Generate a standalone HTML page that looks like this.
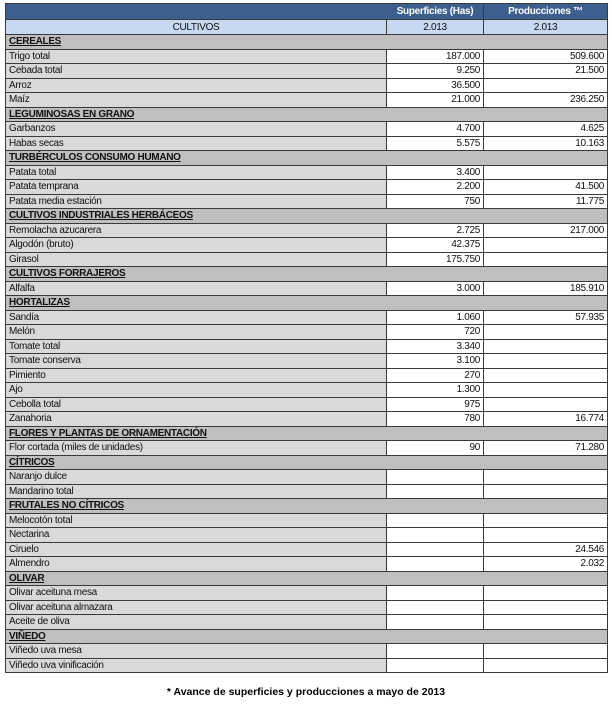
<!DOCTYPE html>
<html><head><meta charset="utf-8"><style>
body{margin:0;width:612px;height:705px;background:#fff;font-family:"Liberation Sans",sans-serif;overflow:hidden}
table{position:absolute;left:5px;top:3px;width:602px;border-collapse:collapse;table-layout:fixed;font-size:10px;letter-spacing:-0.3px}
td{border:1px solid #3a3a3a;padding:1px 3px 0 3px;height:12.5px;line-height:12px;white-space:nowrap;overflow:hidden;color:#111;vertical-align:middle}
tr.h1 td{background:#3c5f8e;color:#fff;font-weight:bold;text-align:center;height:14px}
tr.h1 td:first-child{border-right-color:#3c5f8e}
tr.h2 td{background:#c6d9f0;text-align:center;height:13px}
tr.c td{background:#bfbfbf;font-weight:bold;text-decoration:underline}
tr.d td:first-child{background:#d9d9d9}
tr.d td{text-align:right}
tr.d td:first-child{text-align:left}
.f{position:absolute;top:686px;left:0;width:612px;text-align:center;font-weight:bold;font-size:10.5px}
</style></head><body>
<table>
<colgroup><col style="width:381px"><col style="width:97px"><col style="width:124px"></colgroup>
<tr class="h1"><td></td><td>Superficies (Has)</td><td>Producciones ™</td></tr>
<tr class="h2"><td>CULTIVOS</td><td>2.013</td><td>2.013</td></tr>
<tr class="c"><td colspan="3">CEREALES</td></tr>
<tr class="d"><td>Trigo total</td><td>187.000</td><td>509.600</td></tr>
<tr class="d"><td>Cebada total</td><td>9.250</td><td>21.500</td></tr>
<tr class="d"><td>Arroz</td><td>36.500</td><td></td></tr>
<tr class="d"><td>Maíz</td><td>21.000</td><td>236.250</td></tr>
<tr class="c"><td colspan="3">LEGUMINOSAS EN GRANO</td></tr>
<tr class="d"><td>Garbanzos</td><td>4.700</td><td>4.625</td></tr>
<tr class="d"><td>Habas secas</td><td>5.575</td><td>10.163</td></tr>
<tr class="c"><td colspan="3">TURBÉRCULOS CONSUMO HUMANO</td></tr>
<tr class="d"><td>Patata total</td><td>3.400</td><td></td></tr>
<tr class="d"><td>Patata temprana</td><td>2.200</td><td>41.500</td></tr>
<tr class="d"><td>Patata media estación</td><td>750</td><td>11.775</td></tr>
<tr class="c"><td colspan="3">CULTIVOS INDUSTRIALES HERBÁCEOS</td></tr>
<tr class="d"><td>Remolacha azucarera</td><td>2.725</td><td>217.000</td></tr>
<tr class="d"><td>Algodón (bruto)</td><td>42.375</td><td></td></tr>
<tr class="d"><td>Girasol</td><td>175.750</td><td></td></tr>
<tr class="c"><td colspan="3">CULTIVOS FORRAJEROS</td></tr>
<tr class="d"><td>Alfalfa</td><td>3.000</td><td>185.910</td></tr>
<tr class="c"><td colspan="3">HORTALIZAS</td></tr>
<tr class="d"><td>Sandía</td><td>1.060</td><td>57.935</td></tr>
<tr class="d"><td>Melón</td><td>720</td><td></td></tr>
<tr class="d"><td>Tomate total</td><td>3.340</td><td></td></tr>
<tr class="d"><td>Tomate conserva</td><td>3.100</td><td></td></tr>
<tr class="d"><td>Pimiento</td><td>270</td><td></td></tr>
<tr class="d"><td>Ajo</td><td>1.300</td><td></td></tr>
<tr class="d"><td>Cebolla total</td><td>975</td><td></td></tr>
<tr class="d"><td>Zanahoria</td><td>780</td><td>16.774</td></tr>
<tr class="c"><td colspan="3">FLORES Y PLANTAS DE ORNAMENTACIÓN</td></tr>
<tr class="d"><td>Flor cortada (miles de unidades)</td><td>90</td><td>71.280</td></tr>
<tr class="c"><td colspan="3">CÍTRICOS</td></tr>
<tr class="d"><td>Naranjo dulce</td><td></td><td></td></tr>
<tr class="d"><td>Mandarino total</td><td></td><td></td></tr>
<tr class="c"><td colspan="3">FRUTALES NO CÍTRICOS</td></tr>
<tr class="d"><td>Melocotón total</td><td></td><td></td></tr>
<tr class="d"><td>Nectarina</td><td></td><td></td></tr>
<tr class="d"><td>Ciruelo</td><td></td><td>24.546</td></tr>
<tr class="d"><td>Almendro</td><td></td><td>2.032</td></tr>
<tr class="c"><td colspan="3">OLIVAR</td></tr>
<tr class="d"><td>Olivar aceituna mesa</td><td></td><td></td></tr>
<tr class="d"><td>Olivar aceituna almazara</td><td></td><td></td></tr>
<tr class="d"><td>Aceite de oliva</td><td></td><td></td></tr>
<tr class="c"><td colspan="3">VIÑEDO</td></tr>
<tr class="d"><td>Viñedo uva mesa</td><td></td><td></td></tr>
<tr class="d"><td>Viñedo uva vinificación</td><td></td><td></td></tr>
</table>
<div class="f">* Avance de superficies y producciones a mayo de 2013</div>
</body></html>
